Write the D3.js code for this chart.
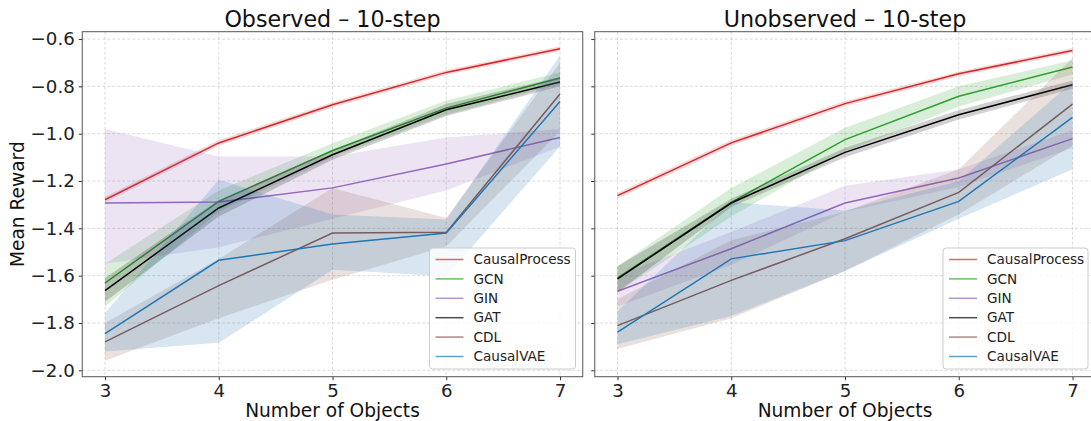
<!DOCTYPE html>
<html><head><meta charset="utf-8">
<script src="https://cdn.jsdelivr.net/npm/d3@7"></script>
<style>
html,body{margin:0;padding:0;background:#fff;}
svg{display:block;font-family:"DejaVu Sans",sans-serif;}
</style></head>
<body>
<svg id="chart" width="1091" height="421"></svg>
<script>
// ---------- data ----------
const objects = [3, 4, 5, 6, 7];
const methods = ["CausalProcess", "GCN", "GIN", "GAT", "CDL", "CausalVAE"];
const colors = ["#d62728", "#2ca02c", "#9467bd", "#000000", "#8c564b", "#1f77b4"];
const yTicks = [-0.6, -0.8, -1.0, -1.2, -1.4, -1.6, -1.8, -2.0];
const titles = ["Observed – 10-step", "Unobserved – 10-step"];

// Observed
const obsCausalProcess = [-1.279, -1.039, -0.878, -0.741, -0.641];
const obsCausalProcessLo = [-1.291, -1.051, -0.889, -0.751, -0.651];
const obsCausalProcessHi = [-1.267, -1.027, -0.867, -0.731, -0.631];
const obsGCN = [-1.631, -1.286, -1.071, -0.892, -0.765];
const obsGCNLo = [-1.73, -1.33, -1.10, -0.92, -0.79];
const obsGCNHi = [-1.55, -1.24, -1.04, -0.86, -0.74];
const obsGIN = [-1.293, -1.289, -1.229, -1.128, -1.016];
const obsGINLo = [-1.55, -1.48, -1.36, -1.24, -1.055];
const obsGINHi = [-0.98, -1.096, -1.096, -1.016, -0.98];
const obsGAT = [-1.663, -1.314, -1.089, -0.899, -0.782];
const obsGATLo = [-1.71, -1.35, -1.11, -0.925, -0.80];
const obsGATHi = [-1.61, -1.28, -1.07, -0.875, -0.76];
const obsCDL = [-1.880, -1.642, -1.420, -1.417, -0.832];
const obsCDLLo = [-1.96, -1.78, -1.617, -1.476, -0.99];
const obsCDLHi = [-1.80, -1.53, -1.23, -1.356, -0.70];
const obsCausalVAE = [-1.845, -1.535, -1.466, -1.420, -0.864];
const obsCausalVAELo = [-1.92, -1.884, -1.575, -1.603, -1.054];
const obsCausalVAEHi = [-1.758, -1.195, -1.342, -1.363, -0.67];

// Unobserved
const unoCausalProcess = [-1.262, -1.039, -0.873, -0.747, -0.648];
const unoCausalProcessLo = [-1.274, -1.051, -0.884, -0.757, -0.658];
const unoCausalProcessHi = [-1.250, -1.027, -0.862, -0.737, -0.638];
const unoGCN = [-1.61, -1.29, -1.025, -0.842, -0.718];
const unoGCNLo = [-1.67, -1.35, -1.075, -0.885, -0.75];
const unoGCNHi = [-1.56, -1.23, -0.975, -0.80, -0.69];
const unoGIN = [-1.666, -1.486, -1.293, -1.187, -1.021];
const unoGINLo = [-1.73, -1.555, -1.33, -1.225, -1.06];
const unoGINHi = [-1.60, -1.415, -1.22, -1.15, -0.985];
const unoGAT = [-1.614, -1.293, -1.079, -0.920, -0.793];
const unoGATLo = [-1.67, -1.31, -1.10, -0.94, -0.81];
const unoGATHi = [-1.56, -1.275, -1.06, -0.90, -0.775];
const unoCDL = [-1.811, -1.620, -1.444, -1.248, -0.875];
const unoCDLLo = [-1.91, -1.78, -1.58, -1.34, -1.05];
const unoCDLHi = [-1.70, -1.45, -1.33, -1.15, -0.68];
const unoCausalVAE = [-1.839, -1.529, -1.452, -1.286, -0.931];
const unoCausalVAELo = [-1.89, -1.77, -1.58, -1.36, -1.15];
const unoCausalVAEHi = [-1.75, -1.29, -1.325, -1.20, -0.78];

const panels = [
  {title: titles[0], series: [
    [obsCausalProcess, obsCausalProcessLo, obsCausalProcessHi],
    [obsGCN, obsGCNLo, obsGCNHi],
    [obsGIN, obsGINLo, obsGINHi],
    [obsGAT, obsGATLo, obsGATHi],
    [obsCDL, obsCDLLo, obsCDLHi],
    [obsCausalVAE, obsCausalVAELo, obsCausalVAEHi]]},
  {title: titles[1], series: [
    [unoCausalProcess, unoCausalProcessLo, unoCausalProcessHi],
    [unoGCN, unoGCNLo, unoGCNHi],
    [unoGIN, unoGINLo, unoGINHi],
    [unoGAT, unoGATLo, unoGATHi],
    [unoCDL, unoCDLLo, unoCDLHi],
    [unoCausalVAE, unoCausalVAELo, unoCausalVAEHi]]}
];

// ---------- layout ----------
const svg = d3.select("#chart");
const axTop = 31.7, axBottom = 376.7;
const axLefts = [82.25, 594.75];
const axWidth = 500.5;
const y = d3.scaleLinear().domain([-2.027, -0.569]).range([axBottom, axTop]);

panels.forEach((p, pi) => {
  const x0 = axLefts[pi];
  const x = d3.scaleLinear().domain([2.8, 7.2]).range([x0, x0 + axWidth]);
  const g = svg.append("g");
  const clipId = "clip" + pi;
  g.append("clipPath").attr("id", clipId).append("rect")
    .attr("x", x0).attr("y", axTop).attr("width", axWidth).attr("height", axBottom - axTop);

  // grid
  const grid = g.append("g").attr("stroke", "#b0b0b0").attr("stroke-opacity", 0.6)
    .attr("stroke-width", 0.8).attr("stroke-dasharray", "3,2");
  objects.forEach(v => grid.append("line").attr("x1", x(v)).attr("x2", x(v)).attr("y1", axTop).attr("y2", axBottom));
  yTicks.forEach(v => grid.append("line").attr("x1", x0).attr("x2", x0 + axWidth).attr("y1", y(v)).attr("y2", y(v)));

  const plot = g.append("g").attr("clip-path", `url(#${clipId})`);
  const area = d3.area().x((d, i) => x(objects[i])).y0(d => y(d[0])).y1(d => y(d[1]));
  const line = d3.line().x((d, i) => x(objects[i])).y(d => y(d));
  p.series.forEach((s, si) => {
    const [m, lo, hi] = s;
    plot.append("path").datum(lo.map((v, i) => [v, hi[i]]))
      .attr("d", area).attr("fill", colors[si]).attr("fill-opacity", 0.18);
    plot.append("path").datum(m).attr("d", line)
      .attr("fill", "none").attr("stroke", colors[si]).attr("stroke-width", 1.5);
  });

  // axes
  const xAxis = d3.axisBottom(x).tickValues(objects).tickFormat(d3.format("d")).tickSize(3.5).tickPadding(4);
  const gx = g.append("g").attr("transform", `translate(0,${axBottom})`).call(xAxis);
  gx.select(".domain").remove();
  gx.selectAll("line").attr("stroke", "#333");
  gx.selectAll("text").attr("font-size", 18.2).attr("fill", "#222").attr("font-family", "DejaVu Sans");

  const yAxis = d3.axisLeft(y).tickValues(yTicks).tickSize(3.5).tickPadding(4)
    .tickFormat(pi === 0 ? (d => d3.format(".1f")(d).replace("-", "−")) : (() => ""));
  const gy = g.append("g").attr("transform", `translate(${x0},0)`).call(yAxis);
  gy.select(".domain").remove();
  gy.selectAll("line").attr("stroke", "#333");
  gy.selectAll("text").attr("font-size", 18.2).attr("fill", "#222").attr("font-family", "DejaVu Sans");

  // frame
  g.append("rect").attr("x", x0).attr("y", axTop).attr("width", axWidth).attr("height", axBottom - axTop)
    .attr("fill", "none").attr("stroke", "#555").attr("stroke-width", 1);

  // title
  g.append("text").attr("x", x0 + axWidth / 2).attr("y", 27).attr("text-anchor", "middle")
    .attr("font-size", 22.2).attr("fill", "#111").text(p.title);
  // x label
  g.append("text").attr("x", x0 + axWidth / 2).attr("y", 417).attr("text-anchor", "middle")
    .attr("font-size", 18.6).attr("fill", "#111").text("Number of Objects");

  // legend
  const lgX = pi === 0 ? 429.5 : 943, lgY = 248, lgW = pi === 0 ? 146 : 145, lgH = 121;
  const lg = g.append("g");
  lg.append("rect").attr("x", lgX).attr("y", lgY).attr("width", lgW).attr("height", lgH)
    .attr("rx", 3).attr("fill", "#fff").attr("fill-opacity", 0.8).attr("stroke", "#ccc").attr("stroke-width", 1);
  methods.forEach((mName, mi) => {
    const ry = lgY + 11.5 + mi * 19.4;
    lg.append("line").attr("x1", lgX + 6).attr("x2", lgX + 34).attr("y1", ry).attr("y2", ry)
      .attr("stroke", colors[mi]).attr("stroke-width", 1.5).attr("stroke-opacity", 0.7);
    lg.append("text").attr("x", lgX + 44).attr("y", ry).attr("dy", "0.35em")
      .attr("font-size", 13.6).attr("fill", "#222").text(mName);
  });
});

// y label
svg.append("text").attr("transform", `translate(24,${(axTop + axBottom) / 2}) rotate(-90)`)
  .attr("text-anchor", "middle").attr("font-size", 18.6).attr("fill", "#111").text("Mean Reward");
</script>
</body></html>
